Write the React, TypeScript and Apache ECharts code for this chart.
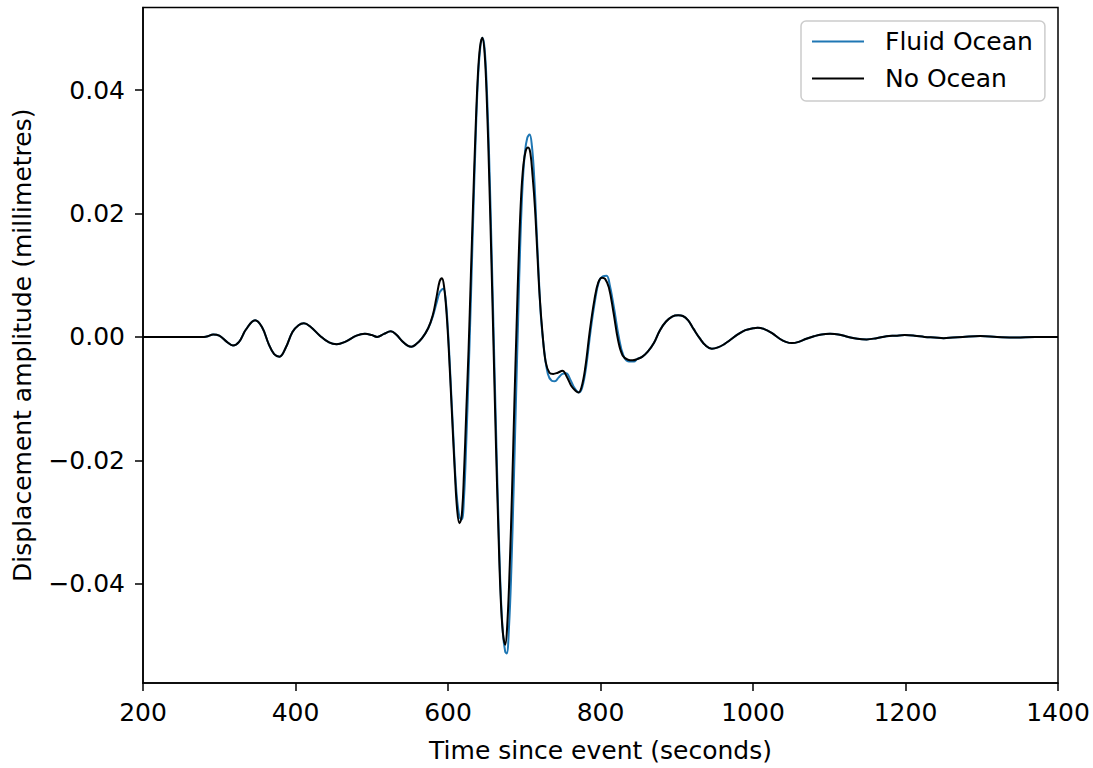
import React, { useEffect, useRef } from "react";
import * as echarts from "echarts";

// Time (s), displacement (mm)
const sharedEarly: [number, number][] = [
  [200, 0], [280, 0], [285, 0.0001], [292, 0.0004], [300, 0.0002], [310, -0.0008], [318, -0.0014],
  [326, -0.0008], [335, 0.0012], [347, 0.0027], [356, 0.0016], [365, -0.0012], [372, -0.0028],
  [379, -0.0032], [387, -0.0018], [396, 0.0008], [404, 0.0019], [411, 0.0022], [420, 0.0016],
  [432, 0.0002], [444, -0.0009], [454, -0.0012], [465, -0.0008], [480, 0.0002], [491, 0.0005],
  [500, 0.0003], [507, 0.0], [516, 0.0005], [525, 0.0009], [532, 0.0004], [540, -0.0007],
  [547, -0.0014], [552, -0.0016], [558, -0.0012], [566, -0.0002], [574, 0.0014],
];

const noOceanPulse: [number, number][] = [
  [580, 0.0035], [585, 0.0065], [589, 0.009], [592, 0.0095], [595, 0.008], [598, 0.004],
  [601, -0.002], [605, -0.012], [609, -0.022], [612, -0.028], [615, -0.0302], [618, -0.029],
  [621, -0.022], [624, -0.012], [627, -0.002], [630, 0.01], [633, 0.022], [636, 0.033],
  [639, 0.042], [642, 0.047], [645, 0.0485], [648, 0.046], [651, 0.038], [654, 0.026],
  [657, 0.012], [660, -0.003], [663, -0.018], [666, -0.031], [669, -0.042], [672, -0.048],
  [675, -0.0499], [678, -0.046], [681, -0.037], [684, -0.025], [687, -0.011], [690, 0.002],
  [693, 0.014], [696, 0.023], [699, 0.028], [702, 0.0302], [705, 0.0307], [708, 0.0298],
  [711, 0.026], [714, 0.021], [717, 0.014], [720, 0.007], [724, 0.0005], [728, -0.004],
  [733, -0.0058], [738, -0.006], [744, -0.0058], [750, -0.0055], [756, -0.0065], [762, -0.008],
  [768, -0.0088], [771, -0.009], [775, -0.0082], [780, -0.005], [786, 0.001], [792, 0.006],
  [797, 0.0088], [802, 0.0096], [806, 0.0094], [811, 0.008], [817, 0.004], [823, -0.0005],
  [829, -0.003], [836, -0.0037], [842, -0.0038],
];

const fluidOceanPulse: [number, number][] = [
  [580, 0.0033], [585, 0.0055], [589, 0.0072], [592, 0.0077], [594, 0.0078], [597, 0.006],
  [600, 0.001], [603, -0.006], [607, -0.016], [611, -0.025], [615, -0.0292], [618, -0.0296],
  [621, -0.026], [624, -0.017], [627, -0.006], [630, 0.006], [633, 0.019], [636, 0.031],
  [639, 0.041], [642, 0.0465], [645, 0.0485], [648, 0.0468], [651, 0.04], [654, 0.029],
  [657, 0.015], [660, 0.0], [663, -0.015], [666, -0.029], [669, -0.041], [672, -0.048],
  [675, -0.051], [677, -0.0513], [680, -0.047], [683, -0.038], [686, -0.025], [689, -0.011],
  [692, 0.003], [695, 0.016], [698, 0.025], [701, 0.03], [704, 0.0323], [707, 0.0328],
  [710, 0.031], [713, 0.026], [716, 0.018], [719, 0.01], [722, 0.003], [726, -0.002],
  [731, -0.006], [736, -0.0071], [740, -0.0072], [745, -0.0066], [750, -0.006], [755, -0.0059],
  [760, -0.0068], [766, -0.0083], [772, -0.009], [776, -0.0082], [781, -0.005], [787, 0.001],
  [793, 0.006], [798, 0.009], [803, 0.0098], [808, 0.0099], [812, 0.0085], [818, 0.0045],
  [824, 0.0], [830, -0.003], [837, -0.004], [844, -0.004],
];

const sharedLate: [number, number][] = [
  [848, -0.0036], [855, -0.0032], [862, -0.0024], [870, -0.001], [878, 0.0011], [886, 0.0025],
  [894, 0.0033], [902, 0.0035], [908, 0.0034], [915, 0.0027], [922, 0.0013], [930, -0.0002],
  [938, -0.0014], [946, -0.0019], [954, -0.0017], [962, -0.0012], [970, -0.0005], [980, 0.0004],
  [990, 0.0011], [1000, 0.0014], [1006, 0.0015], [1014, 0.0013], [1025, 0.0006], [1035, -0.0003],
  [1043, -0.0008], [1051, -0.001], [1060, -0.0008], [1070, -0.0003], [1080, 0.0001], [1090, 0.0004],
  [1101, 0.0005], [1112, 0.0004], [1125, 0.0], [1137, -0.0003], [1149, -0.0004], [1162, -0.0002],
  [1175, 0.0001], [1187, 0.0002], [1199, 0.0003], [1212, 0.0002], [1225, 0.0], [1238, -0.0001],
  [1250, -0.0002], [1262, -0.0001], [1275, 0.0], [1298, 0.00015], [1320, 0.0], [1345, -0.0001],
  [1370, 0.0], [1400, 0.0],
];

const fluidOcean = [...sharedEarly, ...fluidOceanPulse, ...sharedLate];
const noOcean = [...sharedEarly, ...noOceanPulse, ...sharedLate];

const xTicks = [200, 400, 600, 800, 1000, 1200, 1400];
const yTicks = [-0.04, -0.02, 0, 0.02, 0.04];

const FONT = "DejaVu Sans";
const FS = 25;

export default function App() {
  const ref = useRef<HTMLDivElement>(null);
  useEffect(() => {
    if (!ref.current) return;
    const chart = echarts.init(ref.current, undefined, { renderer: "svg" });
    const fmtY = (v: number) => {
      const s = Math.abs(v).toFixed(2);
      return v < -1e-9 ? "\u2212" + s : s;
    };
    chart.setOption({
      animation: false,
      backgroundColor: "#ffffff",
      textStyle: { fontFamily: FONT },
      grid: {
        left: 143, right: 35, top: 7.5, bottom: 79,
        show: true, borderColor: "#000", borderWidth: 1.5, backgroundColor: "transparent",
      },
      legend: {
        left: 801, top: 21,
        orient: "vertical",
        backgroundColor: "#fff",
        borderColor: "#cccccc",
        borderWidth: 1.5,
        borderRadius: 5,
        padding: [8, 12, 10, 11],
        itemGap: 12,
        itemWidth: 52,
        itemHeight: 2,
        icon: "rect",
        textStyle: { fontFamily: FONT, fontSize: FS, color: "#000", padding: [0, 0, 0, 16] },
        data: ["Fluid Ocean", "No Ocean"],
      },
      xAxis: {
        type: "value",
        min: 200, max: 1400, interval: 200,
        name: "Time since event (seconds)",
        nameLocation: "middle",
        nameGap: 55,
        nameTextStyle: { fontFamily: FONT, fontSize: FS, color: "#000" },
        axisLine: { show: true, onZero: false, lineStyle: { color: "#000", width: 1.5 } },
        axisTick: { show: true, inside: false, length: 8, lineStyle: { color: "#000", width: 1.5 },
          customValues: xTicks },
        axisLabel: { fontFamily: FONT, fontSize: FS, color: "#000", margin: 17, customValues: xTicks,
          formatter: (v: number) => String(v) },
        splitLine: { show: false },
      },
      yAxis: {
        type: "value",
        min: -0.0561, max: 0.0534,
        name: "Displacement amplitude (millimetres)",
        nameLocation: "middle",
        nameGap: 108,
        nameTextStyle: { fontFamily: FONT, fontSize: FS, color: "#000" },
        axisLine: { show: true, onZero: false, lineStyle: { color: "#000", width: 1.5 } },
        axisTick: { show: true, inside: false, length: 8, lineStyle: { color: "#000", width: 1.5 },
          customValues: yTicks },
        axisLabel: { fontFamily: FONT, fontSize: FS, color: "#000", margin: 18,
          customValues: yTicks, formatter: fmtY },
        splitLine: { show: false },
      },
      series: [
        {
          name: "Fluid Ocean", type: "line", data: fluidOcean, showSymbol: false, smooth: 0.4,
          lineStyle: { color: "#1f77b4", width: 2 }, itemStyle: { color: "#1f77b4" },
        },
        {
          name: "No Ocean", type: "line", data: noOcean, showSymbol: false, smooth: 0.4,
          lineStyle: { color: "#000000", width: 2 }, itemStyle: { color: "#000000" },
        },
      ],
    });
    return () => chart.dispose();
  }, []);
  return (
    <div
      ref={ref}
      style={{ position: "absolute", left: 0, top: 0, width: 1093, height: 768, background: "#fff" }}
    />
  );
}
